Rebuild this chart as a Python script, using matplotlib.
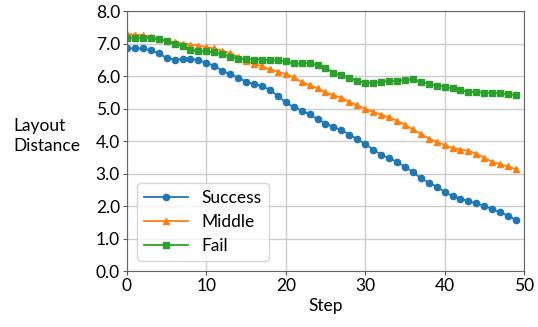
import numpy as np
import matplotlib
matplotlib.use("Agg")
import matplotlib.pyplot as plt
from matplotlib.ticker import FormatStrFormatter

plt.rcParams["font.family"] = ["Lato", "DejaVu Sans"]

steps = list(range(50))

success = [6.85, 6.85, 6.85, 6.79, 6.70, 6.56, 6.51, 6.53, 6.53, 6.49,
           6.41, 6.31, 6.17, 6.05, 5.95, 5.83, 5.75, 5.70, 5.57, 5.39,
           5.19, 5.05, 4.94, 4.82, 4.67, 4.54, 4.44, 4.34, 4.20, 4.06,
           3.91, 3.74, 3.58, 3.48, 3.36, 3.21, 3.05, 2.86, 2.72, 2.60,
           2.43, 2.31, 2.23, 2.15, 2.08, 2.01, 1.90, 1.81, 1.70, 1.58]

middle = [7.29, 7.28, 7.26, 7.19, 7.14, 7.09, 7.04, 7.00, 6.97, 6.94,
          6.89, 6.85, 6.78, 6.70, 6.60, 6.45, 6.38, 6.30, 6.21, 6.14,
          6.06, 5.96, 5.82, 5.72, 5.62, 5.51, 5.41, 5.34, 5.21, 5.10,
          5.00, 4.90, 4.81, 4.73, 4.63, 4.51, 4.36, 4.22, 4.08, 3.98,
          3.88, 3.79, 3.74, 3.70, 3.61, 3.49, 3.36, 3.29, 3.22, 3.14]

fail = [7.18, 7.18, 7.18, 7.18, 7.13, 7.07, 6.99, 6.92, 6.81, 6.77,
        6.76, 6.73, 6.68, 6.60, 6.54, 6.52, 6.51, 6.51, 6.49, 6.49,
        6.45, 6.39, 6.39, 6.41, 6.33, 6.26, 6.10, 6.02, 5.95, 5.85,
        5.79, 5.79, 5.82, 5.85, 5.85, 5.88, 5.90, 5.82, 5.76, 5.71,
        5.68, 5.62, 5.57, 5.52, 5.51, 5.49, 5.49, 5.47, 5.45, 5.41]

fig = plt.figure(figsize=(5.38, 3.27), dpi=100)
ax = fig.add_axes([0.236, 0.171, 0.738, 0.795])

ax.plot(steps, success, "o-", color="#1f77b4", markersize=4.5, linewidth=1.3, label="Success")
ax.plot(steps, middle, "^-", color="#ff7f0e", markersize=4.5, linewidth=1.3, label="Middle")
ax.plot(steps, fail, "s-", color="#2ca02c", markersize=4.5, linewidth=1.3, label="Fail")

ax.set_xlim(0, 50)
ax.set_ylim(0, 8)
ax.set_xticks([0, 10, 20, 30, 40, 50])
ax.set_yticks(np.arange(0, 9, 1))
ax.yaxis.set_major_formatter(FormatStrFormatter("%.1f"))
ax.tick_params(labelsize=12.5, color="#555555", length=3, pad=2)
ax.grid(True, color="#cccccc", linewidth=1)
ax.set_axisbelow(True)
for s in ax.spines.values():
    s.set_color("#666666")

ax.set_xlabel("Step", fontsize=12.5, labelpad=3)
ax.set_ylabel("Layout\nDistance", fontsize=12.5, rotation=0, ha="left", va="center",
              multialignment="left", linespacing=1.3)
ax.yaxis.set_label_coords(-0.287, 0.52)

ax.legend(loc="lower left", fontsize=12.5, handlelength=2.5, labelspacing=0.45,
          borderaxespad=0.6)

fig.savefig("out.png", dpi=100)
